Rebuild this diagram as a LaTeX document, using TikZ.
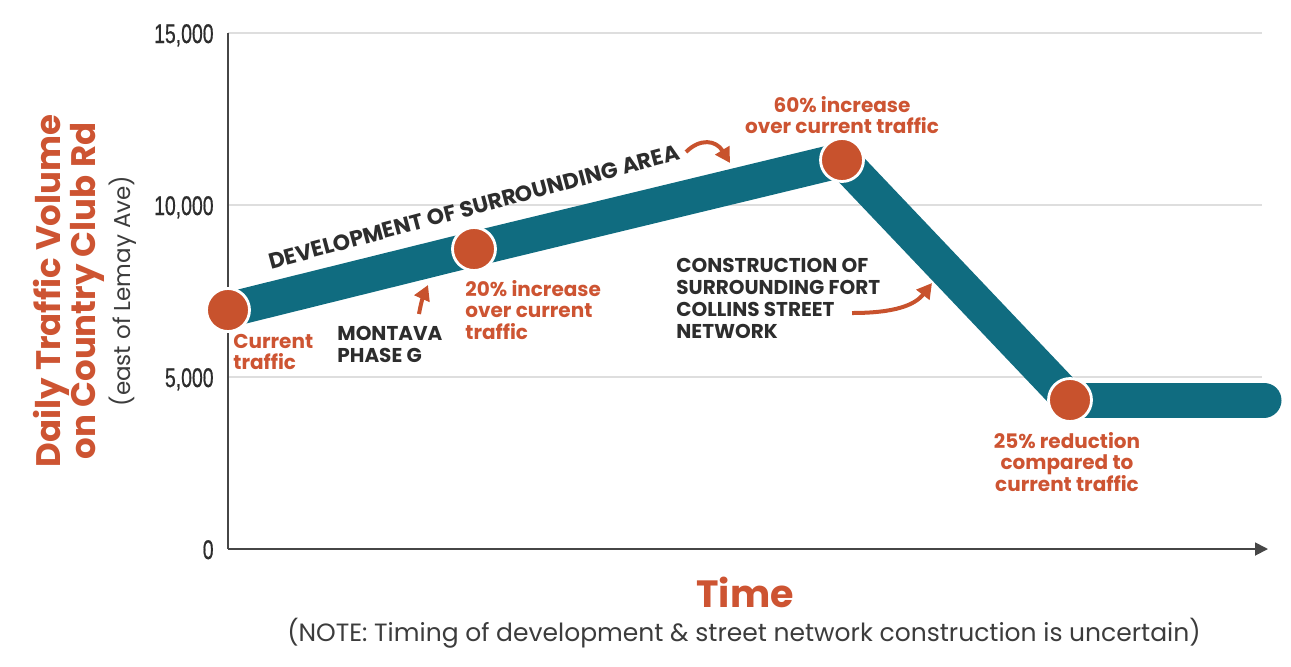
\documentclass[tikz,border=0pt]{standalone}
\usepackage{fontspec}
\setmainfont{Poppins}
\newfontfamily\tickfont[FakeStretch=0.72,FakeBold=0.6]{Liberation Sans}
\usetikzlibrary{arrows.meta}
\definecolor{bandteal}{RGB}{16,108,128}
\definecolor{dotorange}{RGB}{200,82,45}
\definecolor{txtorange}{RGB}{205,84,50}
\definecolor{darktxt}{RGB}{45,45,45}
\definecolor{gridgray}{RGB}{222,222,222}
\definecolor{axisgray}{RGB}{70,70,70}
\definecolor{notegray}{RGB}{60,60,60}
\tikzset{
  band/.style={draw=bandteal, line width=17.5pt, line join=round},
  bandend/.style={draw=bandteal, line width=17.5pt, line cap=round},
  dotnode/.style={circle, fill=dotorange, draw=white, line width=1.4pt, minimum size=21.5pt, inner sep=0pt},
  gridline/.style={draw=gridgray, line width=0.6pt},
  axisline/.style={draw=axisgray, line width=0.9pt},
  ticklabel/.style={anchor=base east, inner sep=0pt, text=darktxt, font=\tickfont\fontsize{13.5}{15}\selectfont},
  orangelabel/.style={inner sep=0pt, text=txtorange, font=\bfseries\fontsize{10}{10.8}\selectfont},
  darklabel/.style={inner sep=0pt, text=darktxt, font=\bfseries\fontsize{10}{11}\selectfont},
  callout/.style={draw=dotorange, line width=2pt, -{Triangle[length=7.5pt,width=8pt]}},
}
\begin{document}
\begin{tikzpicture}[x=0.5pt,y=-0.5pt]
\useasboundingbox (0,0) rectangle (1291,666);
% grid
\coordinate (g15a) at (228,33);  \coordinate (g15b) at (1262,33);
\coordinate (g10a) at (228,205); \coordinate (g10b) at (1262,205);
\coordinate (g5a)  at (228,377); \coordinate (g5b)  at (1262,377);
\draw[gridline] (g15a) -- (g15b);
\draw[gridline] (g10a) -- (g10b);
\draw[gridline] (g5a) -- (g5b);
% axes
\coordinate (origin) at (228,549);
\coordinate (ytop) at (228,33);
\coordinate (xend) at (1268,549);
\draw[axisline] (ytop) -- (origin);
\draw[axisline, -{Triangle[length=6.5pt,width=6.5pt]}] (origin) -- (xend);
% tick labels
\node[ticklabel] (t15) at (214,43) {15,000};
\node[ticklabel] (t10) at (214,215) {10,000};
\node[ticklabel] (t5)  at (214,387) {5,000};
\node[ticklabel] (t0)  at (214,559) {0};
% axis titles
\node[rotate=90, anchor=base, inner sep=0pt, text=txtorange, font=\bfseries\fontsize{17}{18}\selectfont] (ylab1) at (60,291) {Daily Traffic Volume};
\node[rotate=90, anchor=base, inner sep=0pt, text=txtorange, font=\bfseries\fontsize{17}{18}\selectfont] (ylab2) at (95,291) {on Country Club Rd};
\node[rotate=90, anchor=base, inner sep=0pt, text=notegray, font=\fontsize{11.5}{13}\selectfont] (ylab3) at (130,291) {(east of Lemay Ave)};
\node[inner sep=0pt, text=txtorange, font=\bfseries\fontsize{19}{20}\selectfont] (xlab) at (745,592) {Time};
\node[inner sep=0pt, text=notegray, font=\fontsize{12.5}{14}\selectfont] (note) at (744,633) {(NOTE: Timing of development \& street network construction is uncertain)};
% band
\coordinate (c1) at (228,310);
\coordinate (c2) at (474,249);
\coordinate (c3) at (842,160);
\coordinate (c4) at (1070,400);
\coordinate (c5) at (1264,400);
\draw[band] (c1) -- (c2) -- (c3) -- (c4);
\draw[bandend] (c4) -- (c5);
\node[dotnode] (p1) at (c1) {};
\node[dotnode] (p2) at (c2) {};
\node[dotnode] (p3) at (c3) {};
\node[dotnode] (p4) at (c4) {};
% labels
\node[orangelabel, align=left, anchor=west] (lcur) at (233,352) {Current\\traffic};
\node[orangelabel, align=left, anchor=west] (l20) at (465,310) {20\% increase\\over current\\traffic};
\node[orangelabel, align=center] (l60) at (842,115) {60\% increase\\over current traffic};
\node[orangelabel, align=center] (l25) at (1067,462) {25\% reduction\\compared to\\current traffic};
\node[darklabel, align=left, anchor=west] (lmont) at (337,344) {MONTAVA\\PHASE G};
\node[darklabel, align=left, anchor=west] (lcons) at (676,298) {CONSTRUCTION OF\\SURROUNDING FORT\\COLLINS STREET\\NETWORK};
\node[inner sep=0pt, text=darktxt, rotate=15, font=\bfseries\fontsize{11}{12}\selectfont] (ldev) at (474,207) {DEVELOPMENT OF SURROUNDING AREA};
% callout arrows
\coordinate (mt) at (419,314); \coordinate (mh) at (428,285);
\draw[callout] (mt) .. controls (421,302) and (424,294) .. (mh);
\coordinate (dt) at (686,152); \coordinate (dh) at (730,163);
\draw[callout] (dt) .. controls (700,138) and (716,140) .. (dh);
\coordinate (ct) at (852,313); \coordinate (ch) at (932,283);
\draw[callout] (ct) .. controls (895,313) and (915,305) .. (ch);
\end{tikzpicture}
\end{document}
